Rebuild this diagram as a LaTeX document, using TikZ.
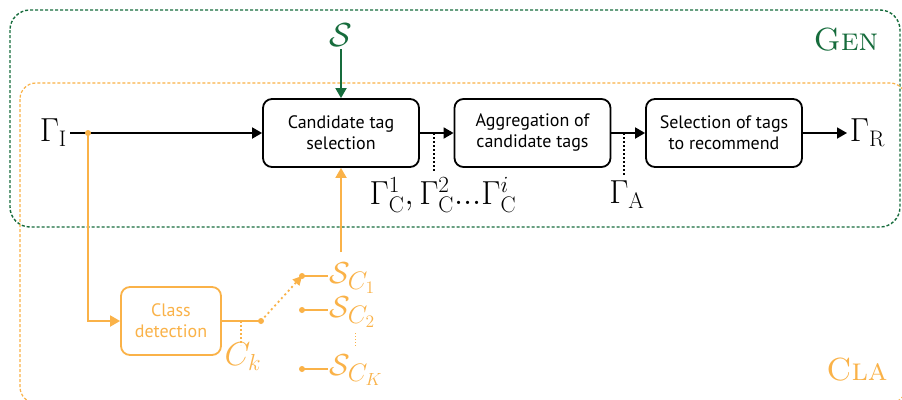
\documentclass[tikz,border=0pt]{standalone}
\usepackage{fontspec}
\newfontfamily\boxfont{PT Sans}
\usetikzlibrary{arrows.meta}
\definecolor{gn}{RGB}{22,108,60}
\definecolor{org}{RGB}{250,178,72}
\newcommand{\bigsub}[1]{\hbox{\fontsize{20.74}{24}\selectfont$#1$}}
\tikzset{
  procbox/.style={draw, line width=1.8pt, rounded corners=9pt, minimum width=156pt, minimum height=68pt,
    align=center, font=\boxfont\fontsize{18}{21}\selectfont, inner sep=2pt},
  mlabel/.style={font=\fontsize{24}{29}\selectfont, inner sep=2pt, scale=1.34},
  slabel/.style={font=\fontsize{24}{29}\selectfont, inner sep=1pt, scale=1.22},
  conn/.style={line width=1.8pt, -{Triangle[length=10pt,width=11pt]}},
  dotline/.style={line width=1.8pt, dash pattern=on 2pt off 2pt},
  odot/.style={circle, fill=org, inner sep=0pt, minimum size=6pt},
}
\begin{document}
\begin{tikzpicture}[x=1pt,y=-1pt]
\clip (0,0) rectangle (902,399);
\fill[white] (0,0) rectangle (902,399);
% group frames
\draw[gn, line width=1.4pt, dash pattern=on 3pt off 2pt, rounded corners=20pt] (10,10) rectangle (900,227);
\draw[org, line width=1.2pt, dash pattern=on 3pt off 2pt, rounded corners=16pt] (20,83) rectangle (906,403);
\node[font=\fontsize{32}{38}\selectfont, text=gn] (gen) at (846,40) {\textsc{Gen}};
\node[font=\fontsize{32}{38}\selectfont, text=org] (cla) at (857,370) {\textsc{Cla}};
% processing boxes
\node[procbox] (cand) at (341,133) {Candidate tag\\selection};
\node[procbox] (agg) at (532.5,133) {Aggregation of\\candidate tags};
\node[procbox] (sel) at (724,133) {Selection of tags\\to recommend};
\node[procbox, draw=org, text=org, minimum width=100pt] (cls) at (171,321) {Class\\detection};
% labels
\node[mlabel, anchor=east] (gi) at (70,133) {$\Gamma_{\mathrm{I}}$};
\node[mlabel, anchor=west] (gr) at (847,133) {$\Gamma_{\mathrm{R}}$};
\node[mlabel, text=gn] (s) at (341,35) {$\mathcal{S}$};
\node[mlabel] (gc) at (443,195) {$\Gamma^1_{\mathrm{C}},\Gamma^2_{\mathrm{C}}...\Gamma^i_{\mathrm{C}}$};
\node[mlabel] (ga) at (627,195) {$\Gamma_{\mathrm{A}}$};
\node[mlabel, text=org] (ck) at (243,357) {$C_k$};
\node[slabel, text=org, anchor=base west] (sc1) at (328,283) {$\mathcal{S}_{\bigsub{C_1}}$};
\node[slabel, text=org, anchor=base west] (sc2) at (328,317) {$\mathcal{S}_{\bigsub{C_2}}$};
\node[slabel, text=org, anchor=base west] (sck) at (328,375) {$\mathcal{S}_{\bigsub{C_K}}$};
% coordinates
\coordinate (split) at (88,133);
\coordinate (turn) at (88,321);
\coordinate (sw) at (261,321);
\coordinate (d1) at (302,276);
\coordinate (d2) at (302,310);
\coordinate (dk) at (302,369);
\coordinate (t1) at (434,133);
\coordinate (t1e) at (434,172);
\coordinate (t2) at (624,133);
\coordinate (t2e) at (624,175);
\coordinate (tk) at (241,321);
\coordinate (tke) at (241,345);
\coordinate (up) at (341,252);
% black flow
\draw[conn] (gi.east) -- (cand.west);
\draw[conn] (cand.east) -- (agg.west);
\draw[conn] (agg.east) -- (sel.west);
\draw[conn] (sel.east) -- (gr.west);
\draw[dotline] (t1) -- (t1e);
\draw[dotline] (t2) -- (t2e);
\draw[conn, gn] (s.south) -- (cand.north);
% orange flow
\draw[conn, org] (split) -- (turn) -- (cls.west);
\draw[org, line width=1.8pt] (cls.east) -- (sw);
\draw[dotline, org] (tk) -- (tke);
\draw[org, line width=1.8pt, dash pattern=on 2pt off 3pt, -{Triangle[length=9pt,width=9pt]}] (sw) -- (d1);
\draw[org, line width=1.8pt] (d1) -- (sc1.west |- d1);
\draw[org, line width=1.8pt] (d2) -- (sc2.west |- d2);
\draw[org, line width=1.8pt] (dk) -- (sck.west |- dk);
\draw[org, line width=1pt, dash pattern=on 1pt off 2pt] (355,333) -- (355,348);
\draw[conn, org] (up) -- (cand.south);
\node[odot] at (split) {};
\node[odot] at (sw) {};
\node[odot] at (d1) {};
\node[odot] at (d2) {};
\node[odot] at (dk) {};
\end{tikzpicture}
\end{document}
